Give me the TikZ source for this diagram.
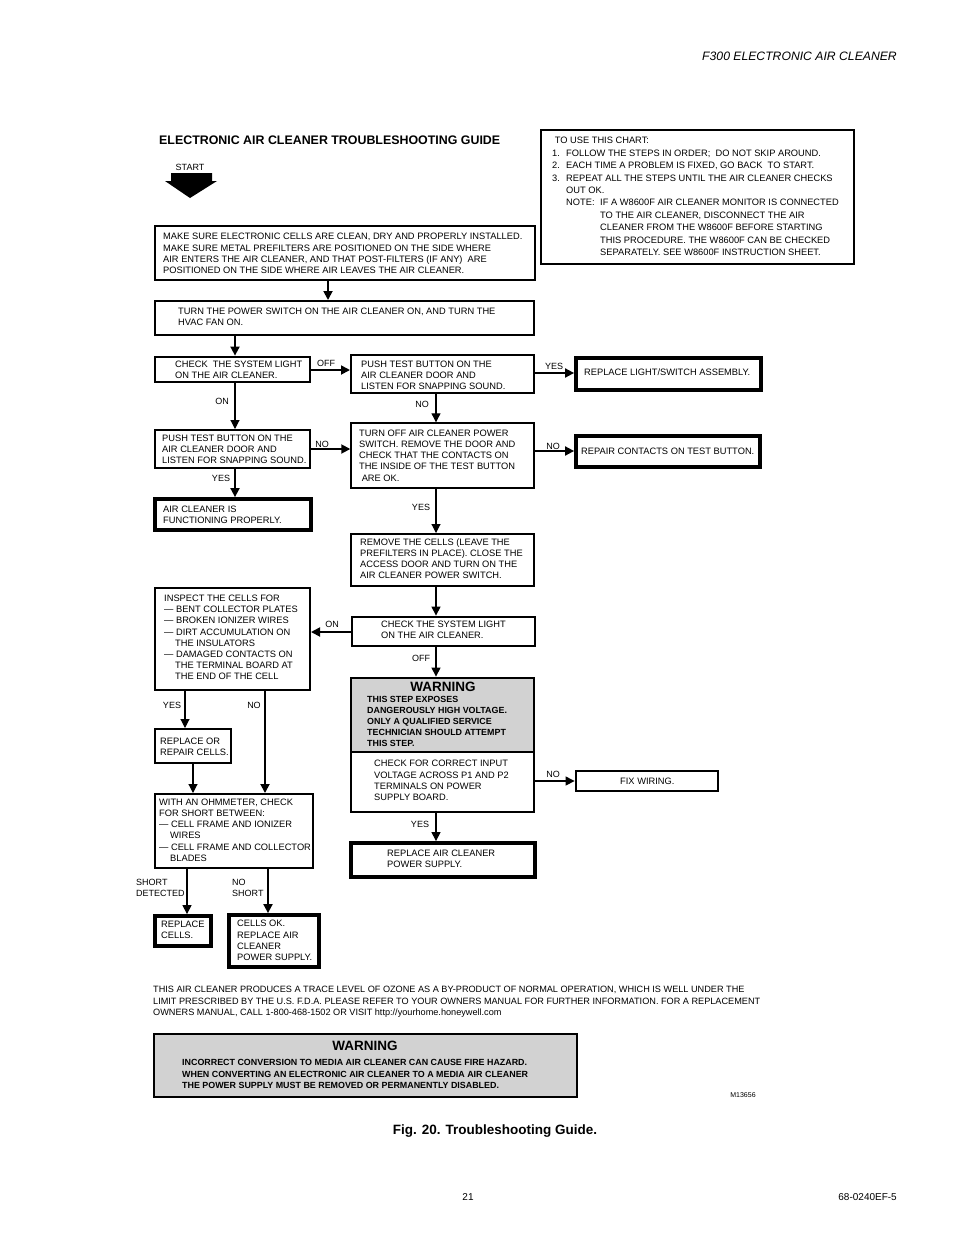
\documentclass[tikz,border=0pt]{standalone}
\usepackage{fontspec}
\setmainfont{Liberation Sans}
\usetikzlibrary{arrows.meta}
\definecolor{warngray}{HTML}{D2D2D2}
\tikzset{
 boxs/.style={draw, rectangle, inner sep=0pt, line width=2pt},
 ta/.style={line width=1.4pt}, tb/.style={line width=2pt}, tc/.style={line width=2.8pt}, td/.style={line width=3.8pt},
 txt/.style={inner sep=0pt, align=left, font=\fontsize{9.3}{11.2}\selectfont},
 lab/.style={inner sep=0pt, align=left, font=\fontsize{9}{11}\selectfont},
 arr/.style={line width=1.8pt, -{Triangle[length=9pt,width=9pt]}},
 arrt/.style={line width=1.1pt, -{Triangle[length=9pt,width=9pt]}},
 warnbody/.style={inner sep=0pt, align=left, font=\bfseries\fontsize{8.9}{11.2}\selectfont},
 warnhead/.style={inner sep=0pt, font=\bfseries\fontsize{13.5}{15}\selectfont},
}
\newcommand\bx[9][]{%
 \node[boxs,#1,minimum width={(#5-#3)*1pt},minimum height={(#6-#4)*1pt}] (#2) at ({(#3+#5)/2},{(#4+#6)/2}) {};
 \node[txt,anchor=west] (#2t) at (#7,#8) {#9};}
\begin{document}
\begin{tikzpicture}[x=1pt,y=-1pt]
\useasboundingbox (0,0) rectangle (954,1235);
% header
\node[inner sep=0pt,anchor=east,font=\itshape\fontsize{12.2}{14}\selectfont] (hdr) at (897,56) {F300 ELECTRONIC AIR CLEANER};
\node[inner sep=0pt,anchor=west,font=\bfseries\fontsize{12.4}{14}\selectfont] (title) at (159,140) {ELECTRONIC AIR CLEANER TROUBLESHOOTING GUIDE};
\node[lab] (start) at (190,167) {START};
\fill (171,173) -- (212,173) -- (212,181) -- (217,181) -- (190,198) -- (165,181) -- (171,181) -- cycle;

% boxes
\bx[tb]{A}{155}{226}{535}{280}{163}{253.5}{MAKE SURE ELECTRONIC CELLS ARE CLEAN, DRY AND PROPERLY INSTALLED.\\MAKE SURE METAL PREFILTERS ARE POSITIONED ON THE SIDE WHERE\\AIR ENTERS THE AIR CLEANER, AND THAT POST-FILTERS (IF ANY)\ \ ARE\\POSITIONED ON THE SIDE WHERE AIR LEAVES THE AIR CLEANER.}
\bx[tb]{B}{155}{301}{534}{335}{178}{316.5}{TURN THE POWER SWITCH ON THE AIR CLEANER ON, AND TURN THE\\HVAC FAN ON.}
\bx[tc]{C}{155}{357}{310}{382}{175}{370}{CHECK\ \ THE SYSTEM LIGHT\\ON THE AIR CLEANER.}
\bx[tb]{D}{351}{355}{534}{393}{361}{375}{PUSH TEST BUTTON ON THE\\AIR CLEANER DOOR AND\\LISTEN FOR SNAPPING SOUND.}
\bx[td]{E}{576}{358}{761}{390}{584}{372}{REPLACE LIGHT/SWITCH ASSEMBLY.}
\bx[tb]{F}{155}{430}{310}{468}{162}{449.5}{PUSH TEST BUTTON ON THE\\AIR CLEANER DOOR AND\\LISTEN FOR SNAPPING SOUND.}
\bx[ta]{G}{351}{423}{534}{488}{359}{455.5}{TURN OFF AIR CLEANER POWER\\SWITCH. REMOVE THE DOOR AND\\CHECK THAT THE CONTACTS ON\\THE INSIDE OF THE TEST BUTTON\\\ ARE OK.}
\bx[td]{H}{576}{436}{760}{467}{581}{451}{REPAIR CONTACTS ON TEST BUTTON.}
\bx[td]{I}{155}{499}{311}{530}{163}{514.5}{AIR CLEANER IS\\FUNCTIONING PROPERLY.}
\bx[tb]{J}{351}{534}{534}{586}{360}{558.5}{REMOVE THE CELLS (LEAVE THE\\PREFILTERS IN PLACE). CLOSE THE\\ACCESS DOOR AND TURN ON THE\\AIR CLEANER POWER SWITCH.}
\bx[tb]{K}{155}{588}{310}{690}{164}{637.5}{INSPECT THE CELLS FOR\\— BENT COLLECTOR PLATES\\— BROKEN IONIZER WIRES\\— DIRT ACCUMULATION ON\\\hspace*{11pt}THE INSULATORS\\— DAMAGED CONTACTS ON\\\hspace*{11pt}THE TERMINAL BOARD AT\\\hspace*{11pt}THE END OF THE CELL}
\bx[tc]{L}{352}{617}{535}{646}{381}{629.5}{CHECK THE SYSTEM LIGHT\\ON THE AIR CLEANER.}
\node[boxs,tc,fill=warngray,minimum width=183pt,minimum height=74pt] (M) at (442.5,715) {};
\node[warnhead] (Mh) at (443,687) {WARNING};
\node[warnbody,anchor=west] (Mt) at (367,721.5) {THIS STEP EXPOSES\\DANGEROUSLY HIGH VOLTAGE.\\ONLY A QUALIFIED SERVICE\\TECHNICIAN SHOULD ATTEMPT\\THIS STEP.};
\bx[ta]{N}{351}{752}{534}{812}{374}{780.5}{CHECK FOR CORRECT INPUT\\VOLTAGE ACROSS P1 AND P2\\TERMINALS ON POWER\\SUPPLY BOARD.}
\bx[tc]{O}{576}{771}{718}{791}{620}{781}{FIX WIRING.}
\bx[td]{P}{351}{843}{535}{877}{387}{858.5}{REPLACE AIR CLEANER\\POWER SUPPLY.}
\bx[tb]{Q}{155}{729}{231}{763}{160}{746.5}{REPLACE OR\\REPAIR CELLS.}
\bx[tb]{R}{155}{794}{313}{868}{159}{830}{WITH AN OHMMETER, CHECK\\FOR SHORT BETWEEN:\\— CELL FRAME AND IONIZER\\\hspace*{11pt}WIRES\\— CELL FRAME AND COLLECTOR\\\hspace*{11pt}BLADES}
\bx[td]{S}{155}{916}{211}{946}{161}{929.5}{REPLACE\\CELLS.}
\bx[td]{T}{229}{915}{319}{967}{237}{940.5}{CELLS OK.\\REPLACE AIR\\CLEANER\\POWER SUPPLY.}

% instructions box
\node[boxs,tb,minimum width=313pt,minimum height=134pt] (U) at (697.5,197) {};
\node[inner sep=0pt,align=left,anchor=west,font=\fontsize{9.3}{12.4}\selectfont] (Ut) at (552,196.5) {\ TO USE THIS CHART:\\\makebox[14pt][l]{1.}FOLLOW THE STEPS IN ORDER;\ \ DO NOT SKIP AROUND.\\\makebox[14pt][l]{2.}EACH TIME A PROBLEM IS FIXED, GO BACK\ \ TO START.\\\makebox[14pt][l]{3.}REPEAT ALL THE STEPS UNTIL THE AIR CLEANER CHECKS\\\hspace*{14pt}OUT OK.\\\hspace*{14pt}\makebox[34pt][l]{NOTE:}IF A W8600F AIR CLEANER MONITOR IS CONNECTED\\\hspace*{48pt}TO THE AIR CLEANER, DISCONNECT THE AIR\\\hspace*{48pt}CLEANER FROM THE W8600F BEFORE STARTING\\\hspace*{48pt}THIS PROCEDURE. THE W8600F CAN BE CHECKED\\\hspace*{48pt}SEPARATELY. SEE W8600F INSTRUCTION SHEET.};

% connectors
\draw[arr] (A.south -| 328,0) -- (B.north -| 328,0);
\draw[arr] (B.south -| 235,0) -- (C.north -| 235,0);
\draw[arr] (C.east |- 0,370) -- (D.west |- 0,370);
\draw[arr] (D.east |- 0,373) -- (E.west |- 0,373);
\draw[arrt] (C.south -| 235,0) -- (F.north -| 235,0);
\draw[arrt] (D.south -| 436,0) -- (G.north -| 436,0);
\draw[arr] (F.east |- 0,449) -- (G.west |- 0,449);
\draw[arr] (G.east |- 0,451) -- (H.west |- 0,451);
\draw[arr] (F.south -| 235,0) -- (I.north -| 235,0);
\draw[arrt] (G.south -| 436,0) -- (J.north -| 436,0);
\draw[arrt] (J.south -| 436,0) -- (L.north -| 436,0);
\draw[arr] (L.west |- 0,632) -- (K.east |- 0,632);
\draw[arrt] (L.south -| 436,0) -- (M.north -| 436,0);
\draw[arrt] (N.east |- 0,781) -- (O.west |- 0,781);
\draw[arrt] (N.south -| 436,0) -- (P.north -| 436,0);
\draw[arrt] (K.south -| 185,0) -- (Q.north -| 185,0);
\draw[arr] (K.south -| 265,0) -- (R.north -| 265,0);
\draw[arrt] (Q.south -| 193,0) -- (R.north -| 193,0);
\draw[arrt] (R.south -| 187,0) -- (S.north -| 187,0);
\draw[arr] (R.south -| 268,0) -- (T.north -| 268,0);

% connector labels
\node[lab] (l1) at (326,363) {OFF};
\node[lab] (l2) at (554,366) {YES};
\node[lab] (l3) at (222,401) {ON};
\node[lab] (l4) at (422,404) {NO};
\node[lab] (l5) at (322,444) {NO};
\node[lab] (l6) at (553,446) {NO};
\node[lab] (l7) at (221,478) {YES};
\node[lab] (l8) at (421,507) {YES};
\node[lab] (l9) at (332,624) {ON};
\node[lab] (l10) at (421,658) {OFF};
\node[lab] (l11) at (553,774) {NO};
\node[lab] (l12) at (420,824) {YES};
\node[lab] (l13) at (172,705) {YES};
\node[lab] (l14) at (254,705) {NO};
\node[lab,anchor=west] (l15) at (136,888) {SHORT\\DETECTED};
\node[lab,anchor=west] (l16) at (232,888) {NO\\SHORT};

% notes
\node[inner sep=0pt,align=left,anchor=north west,font=\fontsize{9.15}{11.5}\selectfont] (oz) at (153,986) {THIS AIR CLEANER PRODUCES A TRACE LEVEL OF OZONE AS A BY-PRODUCT OF NORMAL OPERATION, WHICH IS WELL UNDER THE\\LIMIT PRESCRIBED BY THE U.S. F.D.A. PLEASE REFER TO YOUR OWNERS MANUAL FOR FURTHER INFORMATION. FOR A REPLACEMENT\\OWNERS MANUAL, CALL 1-800-468-1502 OR VISIT http://yourhome.honeywell.com};
\node[boxs,tb,fill=warngray,minimum width=423pt,minimum height=63pt] (W) at (365.5,1065.5) {};
\node[warnhead] (Wh) at (365,1046) {WARNING};
\node[warnbody,anchor=west] (Wt) at (182,1074) {INCORRECT CONVERSION TO MEDIA AIR CLEANER CAN CAUSE FIRE HAZARD.\\WHEN CONVERTING AN ELECTRONIC AIR CLEANER TO A MEDIA AIR CLEANER\\THE POWER SUPPLY MUST BE REMOVED OR PERMANENTLY DISABLED.};
\node[inner sep=0pt,font=\fontsize{7}{8}\selectfont] (mnum) at (743,1095) {M13656};
\node[inner sep=0pt,font=\bfseries\fontsize{13.5}{15}\selectfont] (cap) at (495,1131) {Fig. 20. Troubleshooting Guide.};
\node[inner sep=0pt,font=\fontsize{10}{12}\selectfont] (pg) at (468,1197) {21};
\node[inner sep=0pt,anchor=east,font=\fontsize{10}{12}\selectfont] (doc) at (897,1197) {68-0240EF-5};
\end{tikzpicture}
\end{document}
